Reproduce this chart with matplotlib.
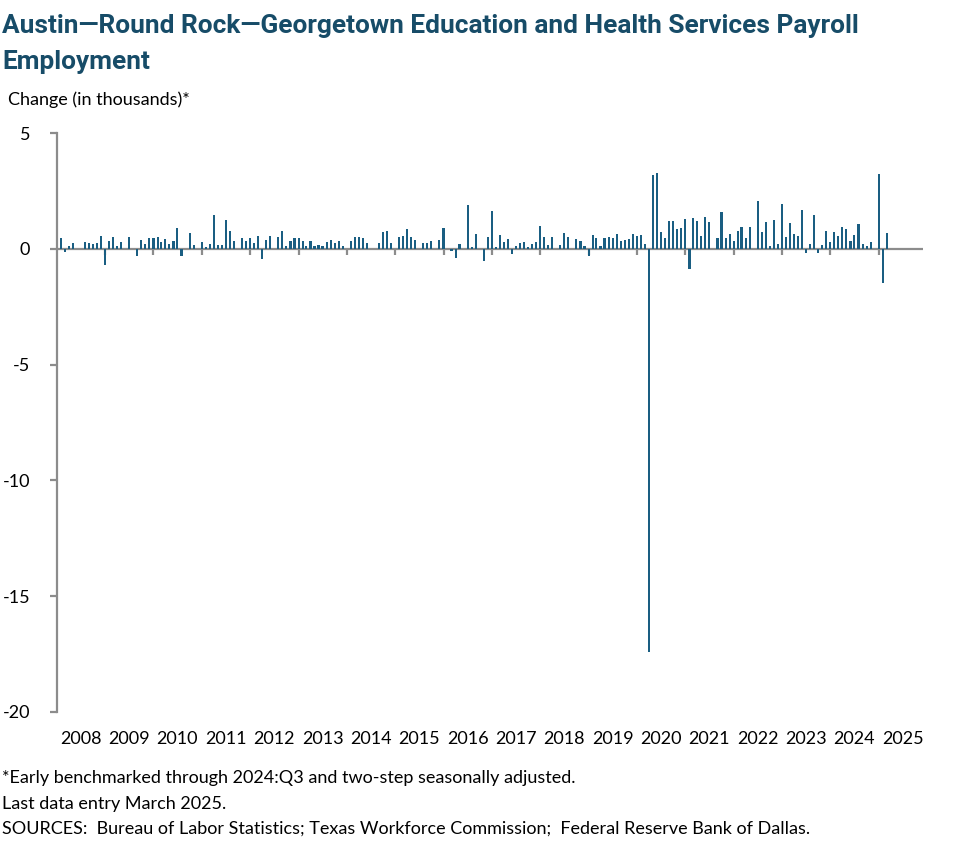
import numpy as np
import pandas as pd
import matplotlib
matplotlib.use("Agg")
import matplotlib.pyplot as plt
import matplotlib.dates as mdates

# monthly change in thousands, Feb 2008 .. Mar 2025
start_month = "2008-02-01"
v2008 = [0.47, -0.13, 0.13, 0.26, 0.0, 0.0, 0.3, 0.26, 0.22, 0.26, 0.56]
v2009 = [-0.68, 0.34, 0.52, 0.1, 0.3, 0.0, 0.52, 0.0, -0.3, 0.39, 0.22, 0.47]
v2010 = [0.47, 0.52, 0.3, 0.43, 0.22, 0.34, 0.9, -0.3, 0.0, 0.69, 0.17, 0.0]
v2011 = [0.3, 0.09, 0.22, 1.47, 0.17, 0.17, 1.25, 0.78, 0.34, 0.0, 0.47, 0.34]
v2012 = [0.47, 0.26, 0.56, -0.43, 0.39, 0.56, 0.0, 0.52, 0.78, 0.13, 0.34, 0.47]
v2013 = [0.47, 0.34, 0.1, 0.34, 0.13, 0.17, 0.13, 0.3, 0.39, 0.26, 0.34, 0.13]
v2014 = [0.0, 0.34, 0.52, 0.52, 0.47, 0.26, 0.0, 0.0, 0.26, 0.73, 0.78, 0.26]
v2015 = [0.0, 0.52, 0.56, 0.86, 0.52, 0.39, 0.0, 0.26, 0.26, 0.34, 0.0, 0.39]
v2016 = [0.9, 0.0, -0.1, -0.39, 0.22, 0.0, 1.9, 0.09, 0.65, 0.0, -0.52, 0.52]
v2017 = [1.64, 0.09, 0.6, 0.3, 0.43, -0.22, 0.13, 0.26, 0.3, 0.09, 0.22, 0.3]
v2018 = [0.99, 0.52, 0.17, 0.52, 0.0, 0.17, 0.69, 0.52, 0.0, 0.43, 0.34, 0.13]
v2019 = [-0.3, 0.6, 0.47, 0.13, 0.47, 0.52, 0.47, 0.65, 0.34, 0.39, 0.43, 0.65]
v2020 = [0.56, 0.6, 0.22, -17.4, 3.19, 3.28, 0.73, 0.47, 1.21, 1.21, 0.86, 0.9]
v2021 = [1.29, -0.86, 1.34, 1.21, 0.56, 1.38, 1.16, 0.0, 0.47, 1.59, 0.47, 0.65]
v2022 = [0.34, 0.78, 0.95, 0.47, 0.95, 0.0, 2.07, 0.73, 1.16, 0.13, 1.25, 0.22]
v2023 = [1.94, 0.52, 1.12, 0.65, 0.56, 1.68, -0.16, 0.22, 1.47, -0.16, 0.17, 0.78]
v2024 = [0.3, 0.73, 0.56, 0.95, 0.86, 0.34, 0.6, 1.08, 0.22, 0.13, 0.3, 0.0]
v2025 = [3.23, -1.47, 0.69]

values = (v2008 + v2009 + v2010 + v2011 + v2012 + v2013 + v2014 + v2015 + v2016
          + v2017 + v2018 + v2019 + v2020 + v2021 + v2022 + v2023 + v2024 + v2025)
months = pd.date_range(start_month, periods=len(values), freq="MS")

title = "Austin\u2014Round Rock\u2014Georgetown Education and Health Services Payroll\nEmployment"
ylabel = "Change (in thousands)*"
notes = ["*Early benchmarked through 2024:Q3 and two-step seasonally adjusted.",
         "Last data entry March 2025.",
         "SOURCES:  Bureau of Labor Statistics; Texas Workforce Commission;  Federal Reserve Bank of Dallas."]

bar_color = "#1a5e82"
title_color = "#174c68"
grey = "#8c8c8c"

plt.rcParams["font.family"] = ["Lato", "DejaVu Sans"]
plt.rcParams["axes.unicode_minus"] = False

fig = plt.figure(figsize=(9.77, 8.64), dpi=100)
ax = fig.add_axes([56.7 / 977, 1 - 712 / 864, (923 - 56.7) / 977, (712 - 133) / 864])

ax.bar(months, values, width=16, color=bar_color, zorder=3)

ax.set_xlim(pd.Timestamp("2008-01-01"), pd.Timestamp("2025-12-01"))
ax.set_ylim(-20, 5)
ax.set_yticks([5, 0, -5, -10, -15, -20])

# zero line and year tick marks
ax.axhline(0, color=grey, lw=1.6, zorder=2)
years = pd.date_range("2008-01-01", "2025-01-01", freq="YS")
ax.vlines(years[1:], -0.25, 0, color=grey, lw=1.6, zorder=2)

for s in ["top", "right", "bottom"]:
    ax.spines[s].set_visible(False)
ax.spines["left"].set_color(grey)
ax.spines["left"].set_linewidth(1.6)

ax.xaxis.set_major_locator(mdates.YearLocator())
ax.xaxis.set_major_formatter(plt.NullFormatter())
ax.xaxis.set_minor_locator(mdates.MonthLocator(bymonth=7))
ax.xaxis.set_minor_formatter(mdates.DateFormatter("%Y"))
ax.tick_params(axis="x", which="both", length=0, labelsize=13, pad=14)
ax.tick_params(axis="y", length=5, color=grey, width=1.6, labelsize=13, pad=14)

fig.text(2 / 977, 1 - 14 / 864, title, ha="left", va="top", fontsize=18.9,
         fontweight="bold", color=title_color, family="Roboto", linespacing=1.65)
fig.text(8 / 977, 1 - 100 / 864, ylabel, ha="left", va="center", fontsize=13)
for i, line in enumerate(notes):
    fig.text(2 / 977, 1 - (778 + 25.5 * i) / 864, line, ha="left", va="center", fontsize=13)

fig.savefig("out.png", dpi=100)
